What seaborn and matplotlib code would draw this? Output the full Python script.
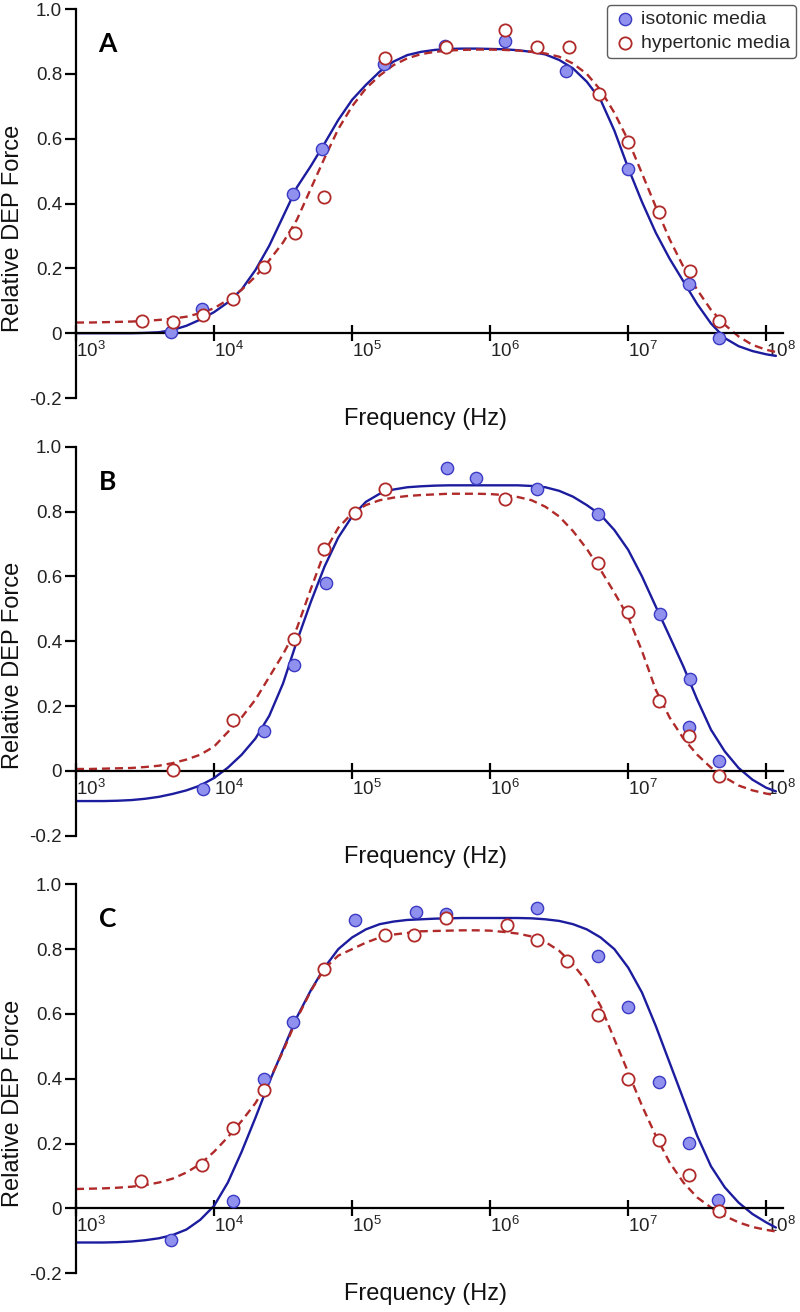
import numpy as np
import pandas as pd
import matplotlib
matplotlib.use("Agg")
import matplotlib.pyplot as plt
import seaborn as sns

# ---------------- data (log10 of frequency in Hz, relative DEP force) ----------------
# Panel A
a_iso_logf = [3.69, 3.91, 4.57, 4.785, 5.23, 5.67, 6.11, 6.55, 7.00, 7.44, 7.66]
a_iso_y = [0.005, 0.076, 0.431, 0.568, 0.832, 0.887, 0.901, 0.810, 0.506, 0.153, -0.015]
a_hyp_logf = [3.475, 3.70, 3.92, 4.14, 4.36, 4.59, 4.80, 5.24, 5.68, 6.11, 6.34, 6.57,
              6.79, 7.00, 7.22, 7.45, 7.66]
a_hyp_y = [0.037, 0.035, 0.056, 0.107, 0.205, 0.308, 0.419, 0.848, 0.884, 0.935, 0.884,
           0.884, 0.738, 0.590, 0.373, 0.192, 0.037]

# Panel B
b_iso_logf = [3.92, 4.36, 4.58, 4.81, 5.685, 5.90, 6.34, 6.78, 7.23, 7.45, 7.44, 7.66]
b_iso_y = [-0.055, 0.123, 0.326, 0.580, 0.933, 0.905, 0.871, 0.792, 0.483, 0.282, 0.134, 0.031]
b_hyp_logf = [3.70, 4.14, 4.58, 4.80, 5.02, 5.24, 6.11, 6.78, 7.00, 7.22, 7.44, 7.66]
b_hyp_y = [0.002, 0.158, 0.406, 0.684, 0.797, 0.871, 0.838, 0.640, 0.489, 0.216, 0.107, -0.016]

# Panel C
c_iso_logf = [3.69, 4.14, 4.36, 4.57, 5.02, 5.46, 5.68, 6.34, 6.78, 7.00, 7.22, 7.44, 7.65]
c_iso_y = [-0.097, 0.022, 0.400, 0.574, 0.891, 0.915, 0.908, 0.927, 0.778, 0.623, 0.389,
           0.202, 0.025]
c_hyp_logf = [3.47, 3.91, 4.14, 4.36, 4.80, 5.24, 5.45, 5.68, 6.12, 6.34, 6.56, 6.78,
              7.00, 7.22, 7.44, 7.66]
c_hyp_y = [0.086, 0.135, 0.248, 0.364, 0.739, 0.845, 0.845, 0.896, 0.875, 0.829, 0.762,
           0.598, 0.400, 0.212, 0.104, -0.009]

# Fitted curves at these log10 frequencies
curve_logf = [3.0, 3.1, 3.2, 3.3, 3.4, 3.5, 3.6, 3.7, 3.8, 3.9,
              4.0, 4.1, 4.2, 4.3, 4.4, 4.5, 4.6, 4.7, 4.8, 4.9,
              5.0, 5.1, 5.2, 5.3, 5.4, 5.5, 5.6, 5.7, 5.8, 5.9,
              6.0, 6.1, 6.2, 6.3, 6.4, 6.5, 6.6, 6.7, 6.8, 6.9,
              7.0, 7.1, 7.2, 7.3, 7.4, 7.5, 7.6, 7.7, 7.8, 7.9,
              8.0, 8.07]
a_iso_fit = [0.0, 0.0, 0.0, 0.0, 0.0, 0.001, 0.003, 0.01, 0.023, 0.042,
             0.065, 0.095, 0.135, 0.195, 0.27, 0.36, 0.45, 0.515, 0.585, 0.658,
             0.72, 0.766, 0.807, 0.838, 0.858, 0.868, 0.874, 0.877, 0.878, 0.878,
             0.877, 0.876, 0.873, 0.868, 0.86, 0.843, 0.817, 0.776, 0.72, 0.625,
             0.51, 0.405, 0.31, 0.23, 0.16, 0.09, 0.03, -0.015, -0.04, -0.055,
             -0.065, -0.07]
a_hyp_fit = [0.033, 0.033, 0.034, 0.035, 0.036, 0.038, 0.041, 0.045, 0.051, 0.062,
             0.077, 0.103, 0.134, 0.175, 0.225, 0.28, 0.35, 0.445, 0.54, 0.63,
             0.70, 0.755, 0.795, 0.827, 0.848, 0.861, 0.868, 0.872, 0.874, 0.875,
             0.875, 0.874, 0.872, 0.868, 0.863, 0.853, 0.832, 0.80, 0.75, 0.68,
             0.595, 0.493, 0.39, 0.29, 0.205, 0.134, 0.072, 0.026, -0.01, -0.036,
             -0.051, -0.058]
b_iso_fit = [-0.093, -0.093, -0.093, -0.092, -0.090, -0.086, -0.080, -0.071, -0.06, -0.045,
             -0.022, 0.01, 0.05, 0.10, 0.17, 0.27, 0.40, 0.52, 0.63, 0.72,
             0.785, 0.83, 0.855, 0.868, 0.875, 0.878, 0.88, 0.881, 0.881, 0.881,
             0.881, 0.881, 0.881, 0.879, 0.875, 0.864, 0.846, 0.82, 0.79, 0.743,
             0.682, 0.60, 0.507, 0.415, 0.322, 0.22, 0.127, 0.06, 0.009, -0.027,
             -0.052, -0.063]
b_hyp_fit = [0.006, 0.006, 0.007, 0.008, 0.009, 0.012, 0.016, 0.024, 0.035, 0.05,
             0.075, 0.12, 0.165, 0.22, 0.29, 0.36, 0.44, 0.56, 0.675, 0.75,
             0.795, 0.82, 0.835, 0.843, 0.848, 0.851, 0.853, 0.855, 0.855, 0.855,
             0.854, 0.851, 0.845, 0.835, 0.815, 0.785, 0.74, 0.685, 0.62, 0.55,
             0.475, 0.37, 0.25, 0.165, 0.10, 0.05, 0.01, -0.02, -0.045, -0.06,
             -0.07, -0.075]
c_iso_fit = [-0.105, -0.105, -0.105, -0.104, -0.102, -0.098, -0.092, -0.082, -0.065, -0.035,
             0.008, 0.08, 0.175, 0.28, 0.39, 0.49, 0.59, 0.672, 0.743, 0.80,
             0.836, 0.861, 0.877, 0.885, 0.89, 0.892, 0.894, 0.895, 0.896, 0.896,
             0.896, 0.896, 0.896, 0.895, 0.892, 0.887, 0.877, 0.861, 0.836, 0.80,
             0.743, 0.666, 0.563, 0.45, 0.337, 0.224, 0.13, 0.065, 0.018, -0.017,
             -0.043, -0.059]
c_hyp_fit = [0.06, 0.061, 0.062, 0.064, 0.067, 0.072, 0.08, 0.092, 0.111, 0.137,
             0.175, 0.22, 0.27, 0.325, 0.395, 0.485, 0.585, 0.67, 0.74, 0.78,
             0.80, 0.82, 0.836, 0.845, 0.85, 0.855, 0.856, 0.857, 0.858, 0.858,
             0.857, 0.853, 0.848, 0.839, 0.822, 0.795, 0.753, 0.70, 0.625, 0.522,
             0.42, 0.317, 0.224, 0.142, 0.08, 0.034, 0.003, -0.023, -0.043, -0.057,
             -0.066, -0.071]

panel_letters = ["A", "B", "C"]
series_labels = ["isotonic media", "hypertonic media"]
ytick_vals = [-0.2, 0.0, 0.2, 0.4, 0.6, 0.8, 1.0]
ytick_labels = ["-0.2", "0", "0.2", "0.4", "0.6", "0.8", "1.0"]
xtick_exps = [3, 4, 5, 6, 7, 8]

panels = [
    (a_iso_logf, a_iso_y, a_hyp_logf, a_hyp_y, a_iso_fit, a_hyp_fit),
    (b_iso_logf, b_iso_y, b_hyp_logf, b_hyp_y, b_iso_fit, b_hyp_fit),
    (c_iso_logf, c_iso_y, c_hyp_logf, c_hyp_y, c_iso_fit, c_hyp_fit),
]

# ---------------- style ----------------
sns.set_theme(style="ticks")
plt.rcParams["font.family"] = ["Liberation Sans", "DejaVu Sans"]
plt.rcParams["mathtext.fontset"] = "custom"
plt.rcParams["mathtext.rm"] = "Liberation Sans"
plt.rcParams["mathtext.it"] = "Liberation Sans:italic"
plt.rcParams["mathtext.bf"] = "Liberation Sans:bold"

BLUE_LINE = "#1c1c9e"
BLUE_FILL = "#9090ee"
BLUE_EDGE = "#3a3ac4"
RED = "#b02a2a"

fig = plt.figure(figsize=(8, 13.12), dpi=100)
bottoms = [0.6966, 0.3630, 0.0295]
left, width, height = 0.095, 0.884, 0.2965

for i, (iso_x, iso_y, hyp_x, hyp_y, iso_fit, hyp_fit) in enumerate(panels):
    ax = fig.add_axes([left, bottoms[i], width, height])
    ax.set_xscale("log")
    fx = np.power(10.0, curve_logf)

    sns.lineplot(x=fx, y=iso_fit, ax=ax, color=BLUE_LINE, lw=1.7, legend=False,
                 estimator=None, sort=False, zorder=2)
    sns.lineplot(x=fx, y=hyp_fit, ax=ax, color=RED, lw=1.7, linestyle=(0, (3.4, 2.1)),
                 legend=False, estimator=None, sort=False, zorder=2)

    sns.scatterplot(x=np.power(10.0, iso_x), y=iso_y, ax=ax, s=78, color=BLUE_FILL,
                    edgecolor=BLUE_EDGE, linewidth=1.0, zorder=3,
                    label=series_labels[0] if i == 0 else None, legend=(i == 0))
    sns.scatterplot(x=np.power(10.0, hyp_x), y=hyp_y, ax=ax, s=78, color="white",
                    edgecolor=RED, linewidth=1.3, zorder=4,
                    label=series_labels[1] if i == 0 else None, legend=(i == 0))

    ax.set_xlim(1e3, 10 ** 8.123)
    ax.set_ylim(-0.2, 1.0)

    for s in ["top", "right"]:
        ax.spines[s].set_visible(False)
    ax.spines["bottom"].set_position(("data", 0))
    ax.spines["left"].set_linewidth(1.6)
    ax.spines["bottom"].set_linewidth(1.6)
    ax.spines["left"].set_color("black")
    ax.spines["bottom"].set_color("black")

    ax.set_yticks(ytick_vals)
    ax.set_yticklabels(ytick_labels, fontsize=13.5, color="#222222")
    ax.tick_params(axis="y", direction="out", length=8, width=1.6, pad=2, color="black")

    ax.set_xticks([10.0 ** e for e in xtick_exps])
    ax.set_xticklabels([f"$10^{{{e}}}$" for e in xtick_exps], fontsize=13.5,
                       ha="left", color="#222222")
    ax.xaxis.set_minor_locator(matplotlib.ticker.NullLocator())
    ax.tick_params(axis="x", direction="inout", length=11, width=1.6, pad=0, color="black")

    ax.set_xlabel("Frequency (Hz)", fontsize=17, color="#111111")
    ax.xaxis.set_label_coords(0.494, -0.054)
    ax.xaxis.label.set_va("center")
    ax.set_ylabel("Relative DEP Force", fontsize=17, color="#111111")
    ax.yaxis.set_label_coords(-0.089, 0.437)
    ax.yaxis.label.set_va("center")

    ax.text(0.045, 0.91, panel_letters[i], transform=ax.transAxes, fontsize=19,
            fontweight="bold", family=["Lato", "DejaVu Sans"], ha="center", va="center",
            color="black")

    if i == 0:
        leg = ax.legend(loc="upper right", bbox_to_anchor=(0.995, 0.9962),
                        bbox_transform=fig.transFigure, borderaxespad=0, fontsize=14,
                        frameon=True, fancybox=True, handletextpad=0.25,
                        borderpad=0.3, labelspacing=0.3, handlelength=1.2)
        leg.get_frame().set_edgecolor("#333333")
        leg.get_frame().set_linewidth(1.0)

fig.savefig("out.png", dpi=100)
